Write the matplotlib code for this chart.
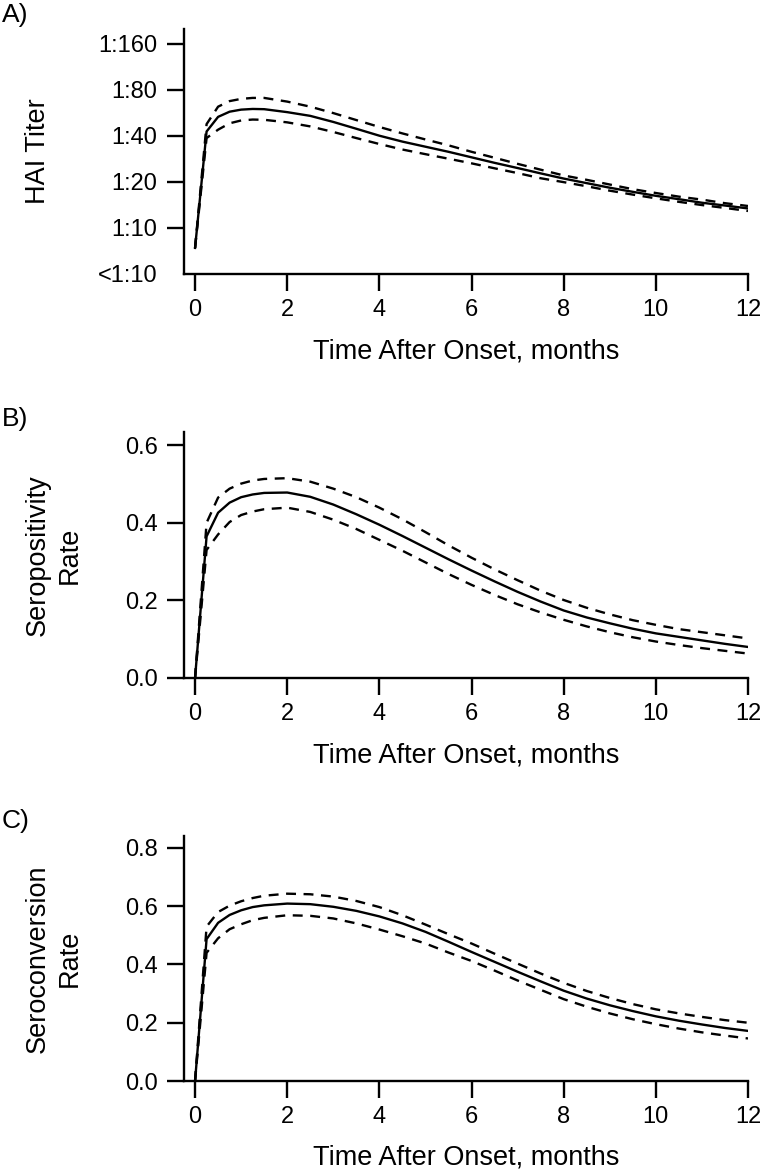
import matplotlib
matplotlib.use("Agg")
import matplotlib.pyplot as plt

plt.rcParams['font.family'] = ['Liberation Sans', 'DejaVu Sans']

# Time grid (months after onset) shared by all three panels
MONTHS = [0, 0.25, 0.5, 0.75, 1, 1.25, 1.5,
          2, 2.5, 3, 3.5, 4, 4.5, 5, 5.5, 6, 6.5, 7, 7.5, 8, 8.5, 9, 9.5, 10, 10.5, 11, 11.5, 12]

# A) HAI titer (reciprocal), fit and 95% band
TITER_FIT = [7.4, 42.6, 53.1, 57.4, 59.2, 59.8, 59.6,
             57.0, 53.9, 49.2, 44.4, 40.0, 36.6, 33.9, 31.4, 28.9, 26.6, 24.6, 22.7, 21.0,
             19.6, 18.3, 17.2, 16.2, 15.4, 14.6, 14.0, 13.4]
TITER_HI = [7.4, 47.6, 61.9, 67.3, 69.6, 70.6, 70.6,
            66.8, 61.9, 56.2, 50.6, 45.6, 41.4, 37.8, 34.6, 31.4, 28.7, 26.2, 24.0, 22.0,
            20.6, 19.2, 17.9, 16.9, 16.0, 15.3, 14.5, 13.9]
TITER_LO = [7.4, 38.6, 43.8, 48.2, 50.3, 51.0, 50.8,
            48.9, 46.0, 42.3, 38.6, 35.3, 32.5, 30.3, 28.3, 26.4, 24.5, 22.8, 21.1, 19.9,
            18.7, 17.5, 16.5, 15.6, 14.8, 14.1, 13.5, 12.9]
TITER_TICKS = [5, 10, 20, 40, 80, 160]
TITER_LABELS = ['<1:10', '1:10', '1:20', '1:40', '1:80', '1:160']

# B) seropositivity rate
SEROPOS_FIT = [0, 0.365, 0.426, 0.452, 0.466, 0.473, 0.477,
               0.478, 0.467, 0.447, 0.422, 0.395, 0.366, 0.336, 0.306, 0.277, 0.249, 0.222, 0.197, 0.174,
               0.156, 0.141, 0.127, 0.115, 0.106, 0.097, 0.088, 0.080]
SEROPOS_HI = [0, 0.40, 0.465, 0.488, 0.501, 0.509, 0.513,
              0.515, 0.506, 0.488, 0.466, 0.439, 0.409, 0.376, 0.342, 0.310, 0.280, 0.252, 0.225, 0.201,
              0.181, 0.164, 0.149, 0.137, 0.126, 0.118, 0.110, 0.102]
SEROPOS_LO = [0, 0.33, 0.37, 0.402, 0.420, 0.429, 0.435,
              0.439, 0.428, 0.408, 0.384, 0.356, 0.328, 0.298, 0.268, 0.240, 0.214, 0.190, 0.169, 0.150,
              0.133, 0.118, 0.105, 0.094, 0.085, 0.077, 0.070, 0.063]

# C) seroconversion rate
SEROCONV_FIT = [0, 0.487, 0.543, 0.570, 0.586, 0.597, 0.603,
                0.609, 0.607, 0.598, 0.584, 0.565, 0.541, 0.512, 0.478, 0.443, 0.409, 0.375, 0.342, 0.310,
                0.283, 0.260, 0.240, 0.222, 0.207, 0.194, 0.182, 0.172]
SEROCONV_HI = [0, 0.53, 0.580, 0.602, 0.617, 0.628, 0.636,
               0.643, 0.641, 0.633, 0.618, 0.597, 0.569, 0.537, 0.504, 0.472, 0.437, 0.403, 0.369, 0.337,
               0.309, 0.285, 0.264, 0.246, 0.232, 0.220, 0.209, 0.200]
SEROCONV_LO = [0, 0.44, 0.49, 0.521, 0.538, 0.552, 0.560,
               0.569, 0.567, 0.558, 0.541, 0.520, 0.497, 0.472, 0.441, 0.412, 0.379, 0.345, 0.313, 0.281,
               0.255, 0.232, 0.212, 0.195, 0.180, 0.167, 0.156, 0.146]

X_TICKS = [0, 2, 4, 6, 8, 10, 12]
XLABEL = 'Time After Onset, months'

W, H = 761, 1174
LW = 1.7
DASH = (0, (4.2, 3.2))


def px_axes(fig, top, bottom, left=184, right=748):
    """Axes placed by pixel edges of the target image"""
    return fig.add_axes([left / W, 1 - bottom / H, (right - left) / W, (bottom - top) / H])


def style(ax, ylabel, ylab_x):
    ax.spines['top'].set_visible(False)
    ax.spines['right'].set_visible(False)
    for s in ('left', 'bottom'):
        ax.spines[s].set_linewidth(LW)
    ax.tick_params(direction='out', length=12, width=LW, labelsize=17)
    ax.tick_params(axis='x', pad=6)
    ax.tick_params(axis='y', pad=7)
    ax.set_xlim(-0.24, 12)
    ax.set_xticks(X_TICKS)
    ax.set_xlabel(XLABEL, fontsize=19.5, va='center')
    ax.xaxis.set_label_coords(0.5, -77 / 245)
    ax.set_ylabel(ylabel, fontsize=19.5, va='center', linespacing=1.3)
    ax.yaxis.set_label_coords(ylab_x, 0.5)


def curves(ax, fit, hi, lo):
    ax.plot(MONTHS, fit, color='black', lw=LW)
    ax.plot(MONTHS, hi, color='black', lw=LW, ls=DASH)
    ax.plot(MONTHS, lo, color='black', lw=LW, ls=DASH)


fig = plt.figure(figsize=(W / 100, H / 100), dpi=100)

# A) titer on log2 scale
ax_a = px_axes(fig, 29, 274)
curves(ax_a, TITER_FIT, TITER_HI, TITER_LO)
ax_a.set_yscale('log', base=2)
ax_a.set_ylim(5, 199)
ax_a.set_yticks(TITER_TICKS)
ax_a.set_yticklabels(TITER_LABELS)
ax_a.minorticks_off()
style(ax_a, 'HAI Titer', (37.5 - 184) / 564)
ax_a.yaxis.get_major_ticks()[0].tick1line.set_visible(False)

# B) seropositivity
ax_b = px_axes(fig, 432, 678)
curves(ax_b, SEROPOS_FIT, SEROPOS_HI, SEROPOS_LO)
ax_b.set_ylim(0, 0.634)
ax_b.set_yticks([0.0, 0.2, 0.4, 0.6])
ax_b.set_yticklabels(['0.0', '0.2', '0.4', '0.6'])
style(ax_b, 'Seropositivity\nRate', (53.5 - 184) / 564)

# C) seroconversion
ax_c = px_axes(fig, 836, 1081)
curves(ax_c, SEROCONV_FIT, SEROCONV_HI, SEROCONV_LO)
ax_c.set_ylim(0, 0.841)
ax_c.set_yticks([0.0, 0.2, 0.4, 0.6, 0.8])
ax_c.set_yticklabels(['0.0', '0.2', '0.4', '0.6', '0.8'])
style(ax_c, 'Seroconversion\nRate', (53.5 - 184) / 564)

# panel letters
for lab, yc in (('A)', 15), ('B)', 419), ('C)', 821)):
    fig.text(2 / W, 1 - yc / H, lab, fontsize=19, ha='left', va='center')

fig.savefig('out.png', dpi=100)
